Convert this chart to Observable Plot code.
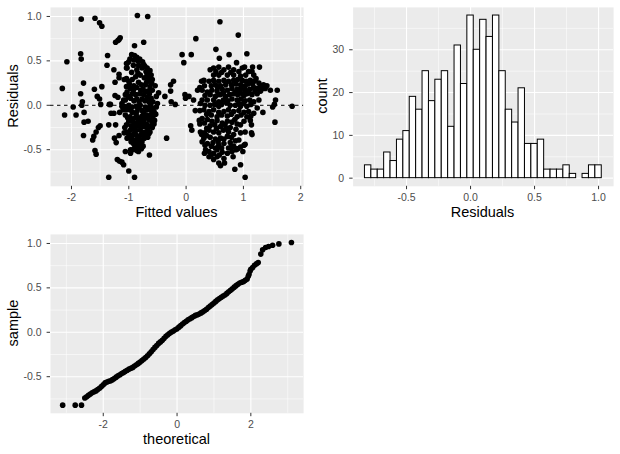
<!DOCTYPE html>
<html><head><meta charset="utf-8">
<script src="https://cdn.jsdelivr.net/npm/d3@7"></script>
<script src="https://cdn.jsdelivr.net/npm/@observablehq/plot@0.6"></script>
<style>
body{margin:0;background:#fff;}
#root{position:relative;width:620px;height:454px;font-family:"Liberation Sans",Arial,sans-serif;overflow:hidden;}
#root svg{position:absolute;}
.title{position:absolute;font-size:14.5px;color:#000;white-space:nowrap;transform:translate(-50%,-50%);line-height:1;}
.ytitle{transform:translate(-50%,-50%) rotate(-90deg);}
</style></head><body><div id="root"></div>
<script>
// ---- Panel 1: residuals vs fitted (pairs [fitted, residual]) ----
const scatterPoints = [
[-2.16,0.19],[-2.12,-0.11],[-2.08,0.49],[-1.97,-0.02],[-1.92,-0.11],[-1.83,0.97],[-1.84,0.58],[-1.83,0.52],[-1.84,0.13],[-1.81,0.04],[-1.82,0.00],
[-1.79,0.25],[-1.78,-0.08],[-1.78,-0.19],[-1.71,-0.18],[-1.79,-0.34],[-1.63,-0.39],[-1.61,-0.35],[-1.59,-0.51],[-1.57,-0.55],[-1.59,0.98],[-1.51,0.93],
[-1.47,0.89],[-1.60,0.18],[-1.55,0.10],[-1.51,0.07],[-1.49,0.01],[-1.47,0.21],[-1.53,-0.25],[-1.57,-0.30],[-1.50,-0.23],[-1.38,0.45],[-1.37,0.56],
[-1.34,0.01],[-1.32,0.01],[-1.35,-0.81],[-1.31,-0.09],[-1.26,-0.09],[-1.35,-0.22],[-1.26,0.40],[-1.24,0.26],[-1.23,0.71],[-1.19,0.73],[-1.15,0.76],[-1.17,0.74],
[-1.24,0.11],[-1.19,0.09],[-1.23,-0.22],[-1.25,-0.37],[-1.22,-0.42],[-1.17,-0.34],[-1.20,-0.61],[-1.16,-0.63],[-1.12,-0.64],[-1.09,-0.67],[-1.17,0.35],
[-1.17,0.31],[-1.16,-0.08],[-1.12,-0.01],[-1.09,0.06],[-1.06,0.12],[-1.04,0.42],[-1.03,0.47],[-1.04,0.30],[-1.00,-0.74],[-1.06,-0.52],[-0.97,-0.54],
[-0.90,-0.81],[-0.90,0.67],[-0.85,1.01],[-0.67,1.00],[-0.74,0.71],[-0.64,-0.56],[-0.34,-0.37],
[-0.95,0.57],[-0.90,0.56],[-0.86,0.54],[-0.81,0.52],[-0.76,0.49],[-0.91,0.51],[-1.00,0.49],
[-1.04,0.47],[-1.03,0.42],[-0.92,0.45],[-0.83,0.45],[-0.74,0.46],[-0.68,0.42],[-0.63,0.39],[-0.77,0.42],[-0.86,0.40],
[-0.68,0.35],[-0.61,0.34],[-0.59,0.29],[-0.65,0.29],[-0.73,0.31],[-0.80,0.34],[-0.88,0.32],[-0.94,0.29],[-1.00,0.27],[-1.08,0.29],[-1.04,0.21],
[-0.91,0.22],[-0.86,0.20],[-0.78,0.23],[-0.71,0.23],[-0.63,0.21],[-0.59,0.17],[-0.67,0.16],[-0.75,0.18],[-0.97,0.19],[-1.03,0.15],
[-0.94,0.13],[-0.88,0.12],[-0.81,0.13],[-0.74,0.12],[-0.68,0.09],[-0.61,0.08],[-0.58,0.04],[-0.65,0.04],[-0.77,0.07],[-0.86,0.07],[-0.97,0.08],[-1.06,0.06],[-1.12,0.02],
[-1.08,-0.01],[-1.00,0.00],[-0.94,-0.02],[-0.87,-0.01],[-0.80,0.00],[-0.71,-0.02],[-0.63,-0.01],[-0.58,-0.03],[-0.56,-0.07],[-0.68,-0.05],[-0.77,-0.06],[-0.86,-0.07],[-0.94,-0.08],[-1.03,-0.05],[-1.10,-0.05],
[-1.06,-0.11],[-0.98,-0.13],[-0.91,-0.15],[-0.84,-0.14],[-0.77,-0.12],[-0.69,-0.11],[-0.62,-0.11],[-0.58,-0.13],[-0.55,-0.17],[-0.65,-0.16],[-0.74,-0.17],[-0.83,-0.18],[-0.91,-0.20],[-1.00,-0.18],
[-1.04,-0.22],[-0.96,-0.23],[-0.88,-0.24],[-0.81,-0.23],[-0.74,-0.24],[-0.67,-0.26],[-0.59,-0.25],[-0.56,-0.21],[-0.63,-0.30],[-0.71,-0.30],[-0.80,-0.28],[-0.88,-0.28],[-0.97,-0.28],[-1.03,-0.30],
[-1.08,-0.31],[-1.00,-0.33],[-0.92,-0.33],[-0.86,-0.34],[-0.78,-0.33],[-0.71,-0.34],[-0.65,-0.32],[-0.94,-0.38],[-0.87,-0.39],[-0.80,-0.39],[-0.73,-0.37],[-1.03,-0.37],
[-0.92,-0.43],[-0.88,-0.46],[-0.84,-0.47],[-0.90,-0.48],[-0.80,-0.43],[-0.75,-0.46],[-0.83,-0.52],[-0.97,-0.50],
[-0.98,0.52],[-0.84,0.50],[-0.72,0.44],[-0.95,0.37],[-0.84,0.36],[-0.70,0.38],[-0.66,0.32],[-0.99,0.24],[-0.83,0.26],[-0.69,0.26],[-0.60,0.25],
[-0.92,0.17],[-0.79,0.17],[-0.71,0.15],[-0.64,0.13],[-1.01,0.10],[-0.91,0.05],[-0.82,0.04],[-0.72,0.05],[-0.62,0.01],[-1.04,-0.02],[-0.97,-0.05],
[-0.83,-0.03],[-0.74,-0.08],[-0.61,-0.06],[-1.02,-0.14],[-0.95,-0.17],[-0.87,-0.11],[-0.80,-0.15],[-0.70,-0.14],[-0.60,-0.18],[-1.07,-0.25],[-0.92,-0.25],
[-0.85,-0.21],[-0.77,-0.20],[-0.69,-0.21],[-0.62,-0.23],[-0.99,-0.36],[-0.89,-0.31],[-0.82,-0.36],[-0.75,-0.31],[-0.67,-0.36],[-0.96,-0.41],[-0.85,-0.42],
[-0.77,-0.41],[-0.93,-0.50],[-0.86,-0.51],[-0.78,-0.49],
[-0.52,-0.02],[-0.50,0.02],[-0.53,-0.10],[-0.52,0.10],[-0.54,0.22],[-0.48,0.14],
[-0.22,0.27],[-0.27,0.23],[-0.27,0.16],[-0.37,0.10],[-0.26,0.04],[-0.19,0.01],
[-0.07,0.57],[-0.04,0.48],[0.09,0.57],[0.17,0.75],[0.59,0.94],[0.91,0.79],[1.06,0.58],[0.52,0.63],[0.58,0.53],[0.75,0.57],[0.88,0.48],[1.02,0.43],
[1.16,0.43],[1.28,0.43],[1.15,0.38],[0.42,0.40],[1.41,0.22],[1.47,0.17],[1.59,0.17],[1.56,0.06],[1.54,0.01],[1.51,-0.02],[1.85,-0.01],[1.55,-0.19],[1.34,-0.08],
[1.14,-0.22],[1.14,-0.31],[1.15,-0.33],[1.03,-0.44],[0.99,-0.52],[0.87,-0.50],[1.01,-0.45],[0.95,-0.47],[0.89,-0.49],[0.82,-0.58],[0.95,-0.67],[0.85,-0.72],[1.03,-0.81],
[0.32,0.22],[0.27,0.27],[0.24,0.20],[0.20,0.17],[-0.02,0.12],[-0.01,0.08],[0.08,-0.23],[0.10,-0.28],[0.16,-0.06],[0.24,-0.06],[0.23,-0.17],
[0.24,-0.21],[0.27,-0.33],[0.32,-0.54],[0.40,-0.58],[0.48,-0.61],[0.57,-0.65],[0.60,-0.68],[0.67,-0.65],[0.66,-0.60],[0.54,-0.58],
[0.48,0.42],[0.57,0.43],[0.66,0.40],[0.74,0.43],[0.83,0.40],[0.92,0.38],[0.98,0.42],[1.09,0.38],[1.18,0.34],[0.83,0.34],[0.72,0.34],[0.57,0.34],[0.48,0.34],
[0.31,0.28],[0.40,0.27],[0.48,0.28],[0.57,0.27],[0.66,0.28],[0.74,0.27],[0.83,0.28],[0.90,0.29],[0.98,0.28],[1.05,0.27],[1.12,0.28],[1.19,0.27],[1.27,0.25],
[1.35,0.23],[0.95,0.23],[1.03,0.22],[0.60,0.22],[0.51,0.23],
[0.28,0.17],[0.37,0.15],[0.45,0.17],[0.54,0.16],[0.63,0.18],[0.72,0.17],[0.80,0.19],[0.89,0.18],[0.96,0.19],[1.03,0.17],[1.11,0.18],[1.18,0.20],[1.24,0.19],
[1.33,0.19],[1.38,0.19],[1.06,0.13],[0.98,0.13],[0.90,0.12],[0.83,0.13],[0.76,0.12],[0.69,0.10],[0.60,0.12],[0.51,0.10],[1.15,0.12],[1.24,0.13],
[0.28,0.06],[0.37,0.06],[0.48,0.06],[0.57,0.04],[0.65,0.06],[0.73,0.05],[0.80,0.07],[0.89,0.06],[0.96,0.07],[1.03,0.05],[1.11,0.06],[1.18,0.04],[1.27,0.06],
[0.77,0.00],[0.86,0.00],[0.95,-0.01],[1.06,-0.01],[0.57,-0.01],[0.42,0.00],[0.25,0.02],[0.13,0.06],[0.05,0.10],
[0.31,-0.05],[0.40,-0.07],[0.48,-0.05],[0.57,-0.08],[0.66,-0.07],[0.74,-0.05],[0.83,-0.07],[0.92,-0.06],[1.01,-0.08],[1.09,-0.07],[1.18,-0.09],[1.24,-0.03],
[0.54,-0.13],[0.72,-0.12],[0.89,-0.13],[1.06,-0.13],
[0.28,-0.15],[0.37,-0.16],[0.45,-0.18],[0.54,-0.17],[0.63,-0.20],[0.72,-0.18],[0.80,-0.19],[0.89,-0.21],[1.01,-0.18],[1.12,-0.17],[0.42,-0.23],[0.60,-0.24],[0.77,-0.25],
[0.25,-0.30],[0.32,-0.31],[0.40,-0.28],[0.48,-0.30],[0.57,-0.31],[0.65,-0.28],[0.74,-0.30],[0.83,-0.33],[0.95,-0.31],[1.03,-0.30],[0.31,-0.37],[0.42,-0.36],
[0.51,-0.38],[0.60,-0.37],[0.72,-0.35],[0.92,-0.39],
[0.28,-0.41],[0.37,-0.43],[0.44,-0.46],[0.51,-0.48],[0.57,-0.45],[0.66,-0.43],[0.77,-0.42],[0.74,-0.48],[0.83,-0.46],[0.34,-0.50],[0.40,-0.52],[0.48,-0.54],
[0.54,-0.50],[0.63,-0.53],[0.72,-0.54],[0.80,-0.52],[0.90,-0.49],
[0.52,0.38],[0.62,0.37],[0.78,0.37],[0.95,0.33],[1.04,0.34],[1.22,0.30],[0.44,0.22],[0.55,0.20],[0.69,0.23],[0.79,0.23],[0.87,0.24],[1.08,0.24],[1.16,0.24],
[1.30,0.21],[0.33,0.11],[0.42,0.12],[0.56,0.12],[0.65,0.14],[0.86,0.15],[0.93,0.15],[1.01,0.11],[1.10,0.14],[1.20,0.16],[1.30,0.16],[0.33,0.00],[0.50,0.01],
[0.62,0.01],[0.70,0.03],[0.92,0.02],[1.00,0.02],[1.13,0.01],[0.36,-0.10],[0.44,-0.11],[0.62,-0.11],[0.79,-0.10],[0.96,-0.11],[1.13,-0.12],[0.32,-0.20],
[0.50,-0.22],[0.68,-0.22],[0.85,-0.16],[0.95,-0.22],[0.36,-0.26],[0.53,-0.26],[0.70,-0.26],[0.87,-0.27],[0.36,-0.34],[0.56,-0.41],[0.66,-0.38],[0.79,-0.36],
[0.86,-0.40],[0.33,-0.45],[0.47,-0.42],[0.62,-0.48],[0.79,-0.47],[0.44,-0.56],[0.58,-0.56]
];

// ---- Panel 2: histogram of residuals (bin edges, counts) ----
const binLower = [-0.825,-0.775,-0.725,-0.675,-0.625,-0.575,-0.525,-0.475,-0.425,-0.375,-0.325,-0.275,-0.225,-0.175,-0.125,-0.075,-0.025,0.025,0.075,0.125,0.175,0.225,0.275,0.325,0.375,0.425,0.475,0.525,0.575,0.625,0.675,0.725,0.775,0.825,0.875,0.925,0.975];
const binCounts = [3,2,2,6,4,9,11,19,16,25,18,23,25,12,31,22,38,30,37,33,38,25,16,13,21,8,8,9,2,2,2,3,1,0,1,3,3];
const binWidth = 0.05;

// ---- Panel 3: normal Q-Q (theoretical, sample) ----
const qqTheoretical = [-3.10,-2.76,-2.59,-2.50,-2.45,-2.40,-2.35,-2.30,-2.25,-2.20,-2.15,-2.10,-2.05,-2.00,-1.95,-1.90,-1.85,-1.80,-1.75,-1.70,-1.65,-1.60,-1.55,-1.50,-1.45,-1.40,-1.35,-1.30,-1.25,-1.20,-1.15,-1.10,-1.05,-1.00,-0.95,-0.90,-0.85,-0.80,-0.75,-0.70,-0.65,-0.60,-0.55,-0.50,-0.45,-0.40,-0.35,-0.30,-0.25,-0.20,-0.15,-0.10,-0.05,0.00,0.05,0.10,0.15,0.20,0.25,0.30,0.35,0.40,0.45,0.50,0.55,0.60,0.65,0.70,0.75,0.80,0.85,0.90,0.95,1.00,1.05,1.10,1.15,1.20,1.25,1.30,1.35,1.40,1.45,1.50,1.55,1.60,1.65,1.70,1.75,1.80,1.85,1.90,1.93,1.95,1.98,2.00,2.05,2.10,2.15,2.20,2.27,2.32,2.40,2.48,2.59,2.76,3.10];
const qqSample = [-0.82,-0.82,-0.82,-0.74,-0.725,-0.71,-0.695,-0.68,-0.67,-0.66,-0.645,-0.63,-0.61,-0.59,-0.57,-0.56,-0.552,-0.545,-0.533,-0.52,-0.505,-0.49,-0.478,-0.465,-0.452,-0.44,-0.428,-0.415,-0.405,-0.395,-0.38,-0.365,-0.35,-0.335,-0.318,-0.30,-0.283,-0.265,-0.243,-0.22,-0.195,-0.17,-0.148,-0.125,-0.108,-0.09,-0.068,-0.045,-0.028,-0.01,0.003,0.015,0.028,0.04,0.058,0.075,0.093,0.11,0.125,0.14,0.153,0.165,0.178,0.19,0.198,0.205,0.218,0.23,0.245,0.26,0.278,0.295,0.313,0.33,0.348,0.365,0.38,0.395,0.408,0.42,0.438,0.455,0.473,0.49,0.508,0.525,0.54,0.555,0.563,0.57,0.585,0.60,0.63,0.65,0.69,0.71,0.73,0.755,0.77,0.785,0.88,0.93,0.955,0.965,0.98,0.995,1.01];

// tick values
const p1XTicks = [-2,-1,0,1,2], p1XMinor = [-1.5,-0.5,0.5,1.5];
const resTicks = [-0.5,0,0.5,1], resMinor = [-0.75,-0.25,0.25,0.75];
const histXTicks = [-0.5,0,0.5,1], histXMinor = [-0.75,-0.25,0.25,0.75];
const histYTicks = [0,10,20,30], histYMinor = [5,15,25,35];
const qqXTicks = [-2,0,2], qqXMinor = [-3,-1,1,3];

const root = document.getElementById("root");
const W = 310, H = 227, MT = 6.9, MB = 41.2, MR = 6.9;
const style = {fontFamily: "'Liberation Sans', Arial, sans-serif", fontSize: "10.5px", background: "transparent", overflow: "visible"};
const f1 = d => d.toFixed(1), f0 = d => String(d);
const DOT_R = 2.8;

function grid(xMaj, xMin, yMaj, yMin) {
  return [
    Plot.frame({fill: "#ebebeb", stroke: null}),
    Plot.ruleX(xMin, {stroke: "white", strokeWidth: 0.55}),
    Plot.ruleY(yMin, {stroke: "white", strokeWidth: 0.55}),
    Plot.ruleX(xMaj, {stroke: "white", strokeWidth: 1.1}),
    Plot.ruleY(yMaj, {stroke: "white", strokeWidth: 1.1})
  ];
}
function axes(xMaj, xf, yMaj, yf) {
  return [
    Plot.axisX(xMaj, {tickSize: 3.4, tickPadding: 4, tickFormat: xf, label: null, stroke: "#333333", fill: "#4d4d4d"}),
    Plot.axisY(yMaj, {tickSize: 3.4, tickPadding: 5.5, tickFormat: yf, label: null, stroke: "#333333", fill: "#4d4d4d"})
  ];
}
function place(svg, left, top) { svg.style.left = left + "px"; svg.style.top = top + "px"; root.appendChild(svg); }
function title(text, x, y, rot) {
  const d = document.createElement("div");
  d.className = rot ? "title ytitle" : "title";
  d.textContent = text; d.style.left = x + "px"; d.style.top = y + "px";
  root.appendChild(d);
}

const pts = scatterPoints.map(([f, r]) => ({fitted: f, resid: r}));
const p1 = Plot.plot({
  width: W, height: H, marginLeft: 50, marginRight: MR, marginTop: MT, marginBottom: MB, style,
  x: {domain: [-2.366, 2.05]}, y: {domain: [-0.912, 1.102]},
  marks: [
    ...grid(p1XTicks, p1XMinor, resTicks, resMinor),
    Plot.ruleY([0], {stroke: "black", strokeWidth: 1, strokeDasharray: "3.5,3.5"}),
    Plot.dot(pts, {x: "fitted", y: "resid", r: DOT_R, fill: "black", stroke: null}),
    ...axes(p1XTicks, f0, resTicks, f1)
  ]
});
place(p1, 0, 0);

const bins = binLower.map((b, i) => ({x1: b, x2: b + binWidth, count: binCounts[i]}));
const p2 = Plot.plot({
  width: W, height: H, marginLeft: 42.6, marginRight: MR, marginTop: MT, marginBottom: MB, style,
  x: {domain: [-0.9175, 1.1175]}, y: {domain: [-1.9, 39.9]},
  marks: [
    ...grid(histXTicks, histXMinor, histYTicks, histYMinor),
    Plot.rectY(bins, {x1: "x1", x2: "x2", y: "count", fill: "white", stroke: "black", strokeWidth: 1}),
    ...axes(histXTicks, f1, histYTicks, f0)
  ]
});
place(p2, 310, 0);

const qq = qqTheoretical.map((t, i) => ({theoretical: t, sample: qqSample[i]}));
const p3 = Plot.plot({
  width: W, height: H, marginLeft: 50, marginRight: MR, marginTop: MT, marginBottom: MB, style,
  x: {domain: [-3.43, 3.43]}, y: {domain: [-0.912, 1.102]},
  marks: [
    ...grid(qqXTicks, qqXMinor, resTicks, resMinor),
    Plot.dot(qq, {x: "theoretical", y: "sample", r: DOT_R, fill: "black", stroke: null}),
    ...axes(qqXTicks, f0, resTicks, f1)
  ]
});
place(p3, 0, 227);

title("Fitted values", 176.5, 211.5, false);
title("Residuals", 12.5, 96, true);
title("count", 322, 96, true);
title("Residuals", 482.5, 211.5, false);
title("theoretical", 176.5, 438.5, false);
title("sample", 12.5, 323, true);
</script></body></html>
